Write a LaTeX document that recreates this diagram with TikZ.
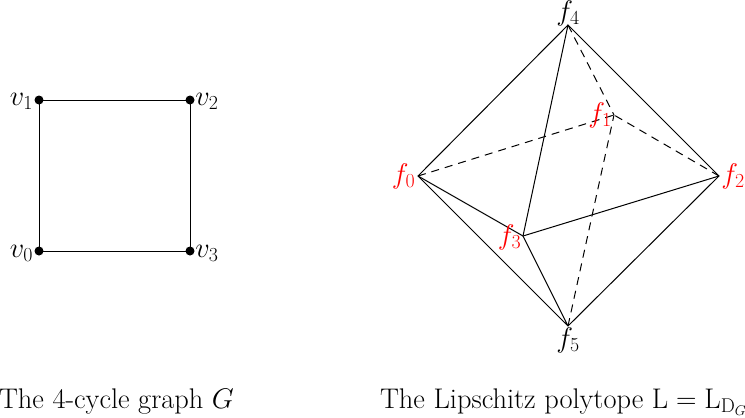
\documentclass[tikz,border=0pt]{standalone}
\usepackage{fix-cm}
\DeclareMathSizes{28.4}{28.4}{19.9}{14.2}
\begin{document}
\begin{tikzpicture}[x=1pt,y=-1pt,
  every node/.style={inner sep=0pt,outer sep=0pt,font=\fontsize{28.4}{32}\selectfont},
  edge/.style={line width=1pt,black},
  hidden/.style={line width=1pt,black,dash pattern=on 8pt off 6pt},
  dot/.style={circle,fill=black,minimum size=9pt},
  red label/.style={text=red}]
\useasboundingbox (0,0) rectangle (745,418);
\clip (0,0) rectangle (745,418);
\node[dot] (v0) at (39,251) {};
\node[dot] (v1) at (39,100) {};
\node[dot] (v2) at (190,100) {};
\node[dot] (v3) at (190,251) {};
\draw[edge] (v0.center) -- (v1.center) -- (v2.center) -- (v3.center) -- cycle;
\node[anchor=base] (lv0) at (21.5,257) {$v_0$};
\node[anchor=base] (lv1) at (21.5,105) {$v_1$};
\node[anchor=base] (lv2) at (207,105) {$v_2$};
\node[anchor=base] (lv3) at (207,257) {$v_3$};
\coordinate (f0) at (418,176);
\coordinate (f1) at (614,115);
\coordinate (f2) at (719,176);
\coordinate (f3) at (523,236);
\coordinate (f4) at (568,25);
\coordinate (f5) at (568,326);
\draw[edge] (f4) -- (f0) -- (f5) -- (f2) -- (f4) -- (f3) -- (f5);
\draw[edge] (f0) -- (f3) -- (f2);
\draw[hidden] (f0) -- (f1);
\draw[hidden] (f2) -- (f1);
\draw[hidden] (f4) -- (f1);
\draw[hidden] (f5) -- (f1);
\node[anchor=base,red label] (lf0) at (403.5,183) {$f_0$};
\node[anchor=base,red label] (lf1) at (600,122) {$f_1$};
\node[anchor=base,red label] (lf2) at (733,183) {$f_2$};
\node[anchor=base,red label] (lf3) at (509.5,244) {$f_3$};
\node[anchor=base] (lf4) at (568,20) {$f_4$};
\node[anchor=base] (lf5) at (568,347) {$f_5$};
\node[anchor=base west] (c1) at (-1,408) {The 4-cycle graph $G$};
\node[anchor=base west] (c2) at (380,408) {The Lipschitz polytope $\mathrm{L}=\mathrm{L}_{\mathrm{D}_G}$};
\end{tikzpicture}
\end{document}
